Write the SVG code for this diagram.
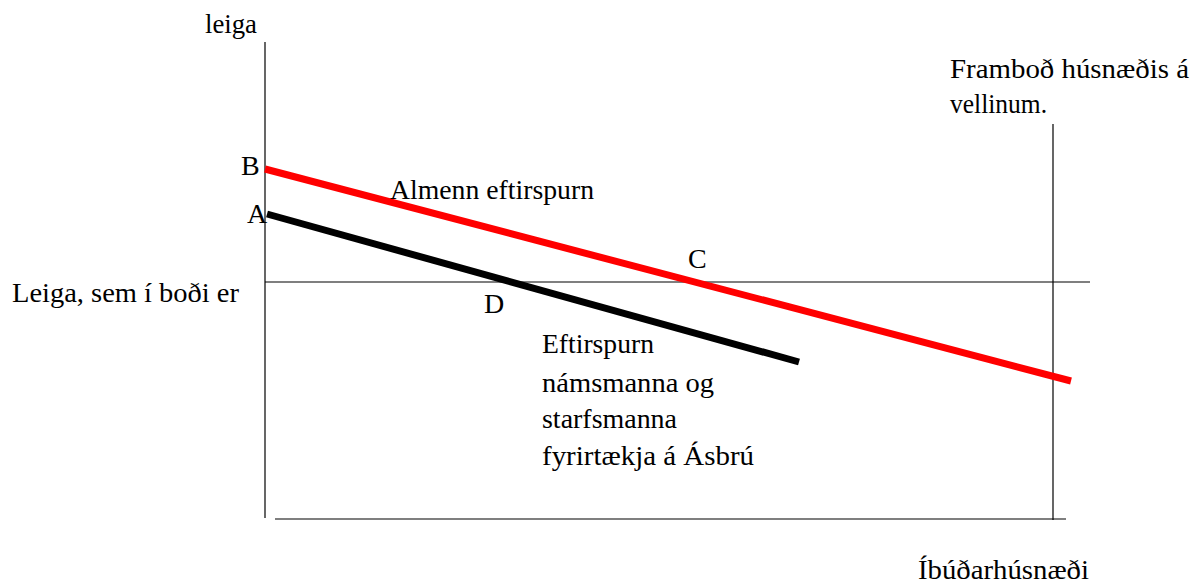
<svg xmlns="http://www.w3.org/2000/svg" width="1198" height="585" viewBox="0 0 1198 585">
<rect width="1198" height="585" fill="#fff"/>
<g id="axes" stroke="#000" stroke-width="1.2" fill="none">
<line x1="265" y1="42" x2="265" y2="518"/>
<line x1="275" y1="519" x2="1066" y2="519"/>
<line x1="265" y1="282" x2="1090" y2="282"/>
<line x1="1053" y1="124" x2="1053" y2="520"/>
</g>
<g id="connectors">
<line x1="265" y1="169" x2="1071" y2="381" stroke="#ff0000" stroke-width="7"/>
<line x1="267" y1="214" x2="799" y2="362" stroke="#000" stroke-width="7"/>
</g>
<g id="labels" fill="#000">
<text font-family="Liberation Serif" font-size="28" x="205" y="33" textLength="52" lengthAdjust="spacingAndGlyphs">leiga</text>
<text font-family="Liberation Serif" font-size="28" x="12" y="302" textLength="227" lengthAdjust="spacingAndGlyphs">Leiga, sem í boði er</text>
<text font-family="Liberation Serif" font-size="28" x="241" y="175">B</text>
<text font-family="Liberation Serif" font-size="28" x="247" y="223">A</text>
<text font-family="Liberation Serif" font-size="28" x="390" y="199" textLength="204" lengthAdjust="spacingAndGlyphs">Almenn eftirspurn</text>
<text font-family="Liberation Serif" font-size="28" x="688" y="268">C</text>
<text font-family="Liberation Serif" font-size="28" x="484" y="313">D</text>
<text font-family="Liberation Serif" font-size="28" x="542" y="353" textLength="112" lengthAdjust="spacingAndGlyphs">Eftirspurn</text>
<text font-family="Liberation Serif" font-size="28" x="542" y="392" textLength="172" lengthAdjust="spacingAndGlyphs">námsmanna og</text>
<text font-family="Liberation Serif" font-size="28" x="542" y="428" textLength="135" lengthAdjust="spacingAndGlyphs">starfsmanna</text>
<text font-family="Liberation Serif" font-size="28" x="542" y="465" textLength="212" lengthAdjust="spacingAndGlyphs">fyrirtækja á Ásbrú</text>
<text font-family="Liberation Serif" font-size="28" x="950" y="78" textLength="239" lengthAdjust="spacingAndGlyphs">Framboð húsnæðis á</text>
<text font-family="Liberation Serif" font-size="28" x="950" y="113" textLength="97" lengthAdjust="spacingAndGlyphs">vellinum.</text>
<text font-family="Liberation Serif" font-size="28" x="918" y="579" textLength="171" lengthAdjust="spacingAndGlyphs">Íbúðarhúsnæði</text>
</g>
</svg>
